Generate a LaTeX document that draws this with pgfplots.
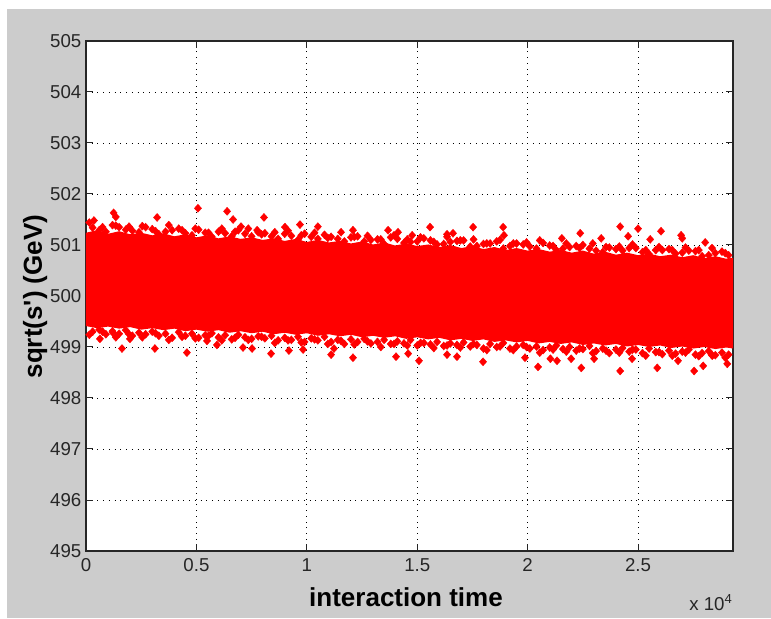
\documentclass[border=0pt]{standalone}
\usepackage{fontspec}
\setmainfont{Liberation Sans}
\usepackage{pgfplots}
\pgfplotsset{compat=1.18}
\definecolor{figgray}{RGB}{204,204,204}
\definecolor{txt}{RGB}{38,38,38}

\begin{document}
\begin{tikzpicture}
% figure background
\fill[white] (0,0) rectangle (578.25pt,463.5pt);
\fill[figgray] (5.25pt,0) rectangle (578.25pt,456.75pt);

\begin{axis}[
    at={(64.5pt,50.25pt)}, anchor=south west,
    scale only axis,
    width=485.25pt, height=382.5pt,
    xmin=0, xmax=29300,
    ymin=495, ymax=505,
    xtick={0,5000,10000,15000,20000,25000},
    xticklabels={0,0.5,1,1.5,2,2.5},
    scaled x ticks=false,
    ytick={495,496,497,498,499,500,501,502,503,504,505},
    yticklabels={495,496,497,498,499,500,501,502,503,504,505},
    grid=major,
    major grid style={black, line width=0.6pt, dash pattern=on 0.6pt off 3.7pt},
    tick align=inside, tick pos=both,
    major tick length=5.5pt,
    every tick/.style={txt, line width=0.75pt},
    axis line style={txt, line width=0.8pt},
    axis background/.style={fill=white},
    ticklabel style={font=\fontsize{14}{16}\selectfont, text=txt},
    xticklabel style={yshift=-2pt},
    dmark/.style={only marks, mark=diamond*, mark size=3pt,
        mark options={draw=red, fill=red, line width=0.3pt, xscale=1.2}},
]

% dense core of the band
\addplot[fill=red, draw=none] coordinates {
(0,501.24) (500,501.29) (1000,501.22) (1500,501.27) (2000,501.21) (2500,501.24)
(3000,501.19) (3500,501.23) (4000,501.17) (4500,501.21) (5000,501.15) (5500,501.19)
(6000,501.13) (6500,501.17) (7000,501.12) (7500,501.15) (8000,501.10) (8500,501.13)
(9000,501.08) (9500,501.12) (10000,501.06) (10500,501.10) (11000,501.05) (11500,501.08)
(12000,501.03) (12500,501.07) (13000,501.01) (13500,501.05) (14000,500.99) (14500,501.03)
(15000,500.98) (15500,501.01) (16000,500.96) (16500,501.00) (17000,500.94) (17500,500.98)
(18000,500.92) (18500,500.96) (19000,500.90) (19500,500.94) (20000,500.89) (20500,500.92)
(21000,500.87) (21500,500.90) (22000,500.85) (22500,500.89) (23000,500.83) (23500,500.87)
(24000,500.81) (24500,500.85) (25000,500.80) (25500,500.83) (26000,500.78) (26500,500.81)
(27000,500.76) (27500,500.80) (28000,500.74) (28500,500.78) (29000,500.73) (29300,500.75)
(29300,498.97) (29000,498.99) (28500,498.96) (28000,499.00) (27500,498.97) (27000,499.01)
(26500,498.98) (26000,499.03) (25500,499.00) (25000,499.04) (24500,499.01) (24000,499.06)
(23500,499.03) (23000,499.07) (22500,499.04) (22000,499.09) (21500,499.06) (21000,499.10)
(20500,499.07) (20000,499.12) (19500,499.09) (19000,499.13) (18500,499.10) (18000,499.15)
(17500,499.12) (17000,499.16) (16500,499.13) (16000,499.18) (15500,499.15) (15000,499.19)
(14500,499.16) (14000,499.21) (13500,499.18) (13000,499.22) (12500,499.19) (12000,499.24)
(11500,499.21) (11000,499.25) (10500,499.22) (10000,499.27) (9500,499.24) (9000,499.28)
(8500,499.25) (8000,499.30) (7500,499.27) (7000,499.31) (6500,499.28) (6000,499.33)
(5500,499.30) (5000,499.34) (4500,499.31) (4000,499.36) (3500,499.33) (3000,499.37)
(2500,499.34) (2000,499.39) (1500,499.36) (1000,499.40) (500,499.37) (0,499.41)
};

% points along the upper edge
\addplot[dmark] coordinates {
(300,501.34) (900,501.26) (1500,501.35) (2100,501.28) (2700,501.35) (3300,501.21)
(3900,501.29) (4500,501.23) (5100,501.30) (5700,501.16) (6300,501.23) (6900,501.29)
(7500,501.17) (8100,501.23) (8700,501.12) (9300,501.18) (9900,501.22) (10500,501.12)
(11100,501.16) (11700,501.07) (12300,501.17) (12900,501.10) (13500,501.02) (14100,501.12)
(14700,501.06) (15300,501.13) (15900,501.01) (16500,501.06) (17100,501.09) (17700,500.98)
(18300,501.03) (18900,500.93) (19500,501.03) (20100,500.97) (20700,501.04) (21300,500.90)
(21900,500.96) (22500,501.00) (23100,500.89) (23700,500.95) (24300,500.89) (24900,500.94)
(25500,500.82) (26100,500.90) (26700,500.83) (27300,500.89) (27900,500.78) (28500,500.84)
(29100,500.80)
(600,501.29) (1200,501.39) (1800,501.30) (2400,501.25) (3000,501.31) (3600,501.26)
(4200,501.32) (4800,501.19) (5400,501.24) (6000,501.26) (6600,501.17) (7200,501.22)
(7800,501.25) (8400,501.17) (9000,501.22) (9600,501.10) (10200,501.16) (10800,501.20)
(11400,501.12) (12000,501.15) (12600,501.07) (13200,501.11) (13800,501.15) (14400,501.04)
(15000,501.07) (15600,501.09) (16200,501.02) (16800,501.08) (17400,500.97) (18000,501.02)
(18600,501.07) (19200,500.98) (19800,501.01) (20400,500.93) (21000,500.99) (21600,500.93)
(22200,500.98) (22800,500.93) (23400,500.86) (24000,500.92) (24600,500.94) (25200,500.86)
(25800,500.90) (26400,500.92) (27000,500.85) (27600,500.88) (28200,500.80) (28800,500.87)
(150,501.44) (750,501.35) (1350,501.38) (1950,501.36) (2550,501.37) (3150,501.27)
(3750,501.39) (4350,501.29) (4950,501.32) (5550,501.24) (6150,501.32) (6750,501.26)
(7350,501.32) (7950,501.21) (8550,501.25) (9150,501.28) (9750,501.19) (10350,501.24)
(10950,501.14) (11550,501.25) (12150,501.16) (12750,501.18) (13350,501.11) (13950,501.19)
(14550,501.11) (15150,501.15) (15750,501.06) (16350,501.16) (16950,501.09) (17550,501.11)
(18150,501.03) (18750,501.10) (19350,501.03) (19950,501.05) (20550,501.09) (21150,500.98)
(21750,501.03) (22350,500.94) (22950,501.03) (23550,500.96) (24150,500.97) (24750,501.01)
(25350,500.90) (25950,500.96) (26550,500.90) (27150,500.95) (27750,500.90) (28350,500.94)
(28950,500.84)
};

% points along the lower edge
\addplot[dmark] coordinates {
(300,499.30) (600,499.34) (900,499.25) (1200,499.31) (1500,499.26) (1800,499.33)
(2100,499.22) (2400,499.28) (2700,499.25) (3000,499.30) (3300,499.22) (3600,499.26)
(3900,499.18) (4200,499.29) (4500,499.22) (4800,499.26) (5100,499.18) (5400,499.23)
(5700,499.27) (6000,499.19) (6300,499.23) (6600,499.15) (6900,499.24) (7200,499.19)
(7500,499.16) (7800,499.21) (8100,499.17) (8400,499.22) (8700,499.13) (9000,499.18)
(9300,499.14) (9600,499.20) (9900,499.10) (10200,499.17) (10500,499.13) (10800,499.20)
(11100,499.10) (11400,499.14) (11700,499.06) (12000,499.15) (12300,499.10) (12600,499.16)
(12900,499.07) (13200,499.10) (13500,499.14) (13800,499.06) (14100,499.11) (14400,499.07)
(14700,499.14) (15000,499.03) (15300,499.08) (15600,499.05) (15900,499.10) (16200,499.02)
(16500,499.07) (16800,499.04) (17100,499.09) (17400,499.01) (17700,499.04) (18000,498.97)
(18300,499.06) (18600,499.00) (18900,499.08) (19200,498.97) (19500,499.01) (19800,499.04)
(20100,498.97) (20400,499.01) (20700,498.94) (21000,498.99) (21300,499.03) (21600,498.96)
(21900,499.00) (22200,498.93) (22500,498.96) (22800,499.02) (23100,498.92) (23400,498.97)
(23700,498.88) (24000,498.95) (24300,498.98) (24600,498.91) (24900,498.95) (25200,498.88)
(25500,498.97) (25800,498.90) (26100,498.86) (26400,498.93) (26700,498.87) (27000,498.91)
(27300,498.95) (27600,498.85) (27900,498.88) (28200,498.92) (28500,498.84) (28800,498.89)
(29100,498.85)
(150,499.24) (750,499.30) (1350,499.19) (1950,499.25) (2550,499.19) (3150,499.27)
(3750,499.14) (4350,499.20) (4950,499.17) (5550,499.22) (6150,499.13) (6750,499.18)
(7350,499.14) (7950,499.20) (8550,499.08) (9150,499.13) (9750,499.09) (10350,499.15)
(10950,499.06) (11550,499.12) (12150,499.05) (12750,499.11) (13350,499.00) (13950,499.06)
(14550,499.03) (15150,499.08) (15750,498.98) (16350,499.03) (16950,498.99) (17550,499.06)
(18150,498.94) (18750,499.01) (19350,498.94) (19950,499.00) (20550,498.89) (21150,498.95)
(21750,498.91) (22350,498.97) (22950,498.88) (23550,498.93) (24150,498.89) (24750,498.95)
(25350,498.83) (25950,498.90) (26550,498.83) (27150,498.89) (27750,498.82) (28350,498.84)
(28950,498.79)
};

% scattered outliers above
\addplot[dmark] coordinates {
(360,501.48) (1250,501.63) (1350,501.55) (3220,501.54) (5070,501.72) (6390,501.66)
(6660,501.50) (7020,501.36) (7750,501.29) (8060,501.54) (9010,501.35) (9690,501.40)
(10500,501.36) (12090,501.29) (13680,501.29) (14130,501.25) (14770,501.19) (15580,501.35)
(16350,501.21) (16620,501.23) (17530,501.35) (18890,501.35) (18930,501.19) (21550,501.13)
(22380,501.23) (23330,501.13) (24190,501.36) (24550,501.17) (25000,501.32) (25550,501.11)
(26040,501.27) (26950,501.19) (27000,501.13) (28040,501.05)
};

% scattered outliers below
\addplot[dmark] coordinates {
(630,499.16) (1220,499.28) (1630,498.97) (1990,499.16) (3120,498.97) (4570,498.89)
(5480,499.12) (5930,499.04) (7110,498.99) (7520,498.97) (8380,498.87) (9190,498.93)
(9830,498.95) (11100,498.85) (11230,498.97) (12090,498.79) (14040,498.81) (14590,498.87)
(15080,498.73) (16350,498.85) (16800,498.81) (17980,498.71) (19880,498.79) (20470,498.61)
(21030,498.77) (21330,498.73) (21970,498.77) (22430,498.59) (23010,498.77) (24190,498.53)
(24730,498.77) (25870,498.59) (26810,498.73) (27540,498.53) (27950,498.63) (28360,498.83)
(29040,498.67)
};
\end{axis}

% axis labels and exponent
\node[anchor=base, font=\fontsize{19.5}{22}\selectfont\bfseries, text=black] at (304.5pt,9pt) {interaction time};
\node[anchor=base, rotate=90, font=\fontsize{19.5}{22}\selectfont\bfseries, text=black] at (31.5pt,241.1pt) {sqrt(s\textquotesingle) (GeV)};
\node[anchor=base west, inner sep=0pt, font=\fontsize{14}{16}\selectfont, text=txt] at (516.75pt,6pt) {x 10\textsuperscript{4}};
\end{tikzpicture}
\end{document}
